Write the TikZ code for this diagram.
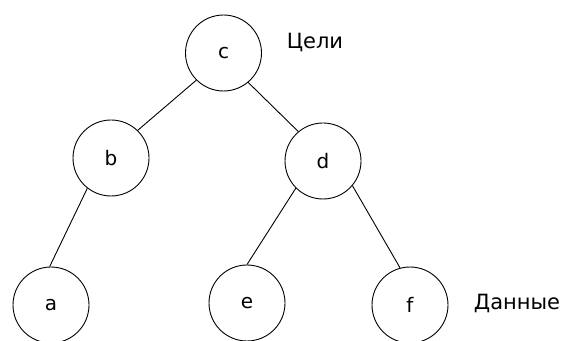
\documentclass[tikz,border=0pt]{standalone}
\usepackage{fontspec}
\setmainfont{DejaVu Sans}
\usetikzlibrary{positioning}

\begin{document}
\begin{tikzpicture}[
    x=1pt, y=1pt,
    vertex/.style={
      circle,
      draw=black,
      line width=0.9pt,
      minimum size=76pt,
      inner sep=0pt,
      font=\fontsize{20}{24}\selectfont
    },
    edge/.style={
      line width=0.9pt
    },
    level/.style={
      font=\fontsize{21}{25}\selectfont
    }
  ]

  \useasboundingbox (0,0) rectangle (562,340);

  % Вершины дерева
  \node[vertex] (c) at (223.5,287) {c};
  \node[vertex] (b) at (111,182) {b};
  \node[vertex] (d) at (323,179) {d};
  \node[vertex] (a) at (51,35) {a};
  \node[vertex] (e) at (247,37) {e};
  \node[vertex] (f) at (410,35) {f};

  % Рёбра
  \draw[edge] (c.225) -- (b.46);
  \draw[edge] (c.-50) -- (d.130);
  \draw[edge] (b.-128) -- (a.92);
  \draw[edge] (d.225) -- (e.north);
  \draw[edge] (d.-40) -- (f.105);

  % Подписи уровней
  \node[level] (goals) at (315,298) {Цели};
  \node[level] (data) at (517,37) {Данные};

\end{tikzpicture}
\end{document}
